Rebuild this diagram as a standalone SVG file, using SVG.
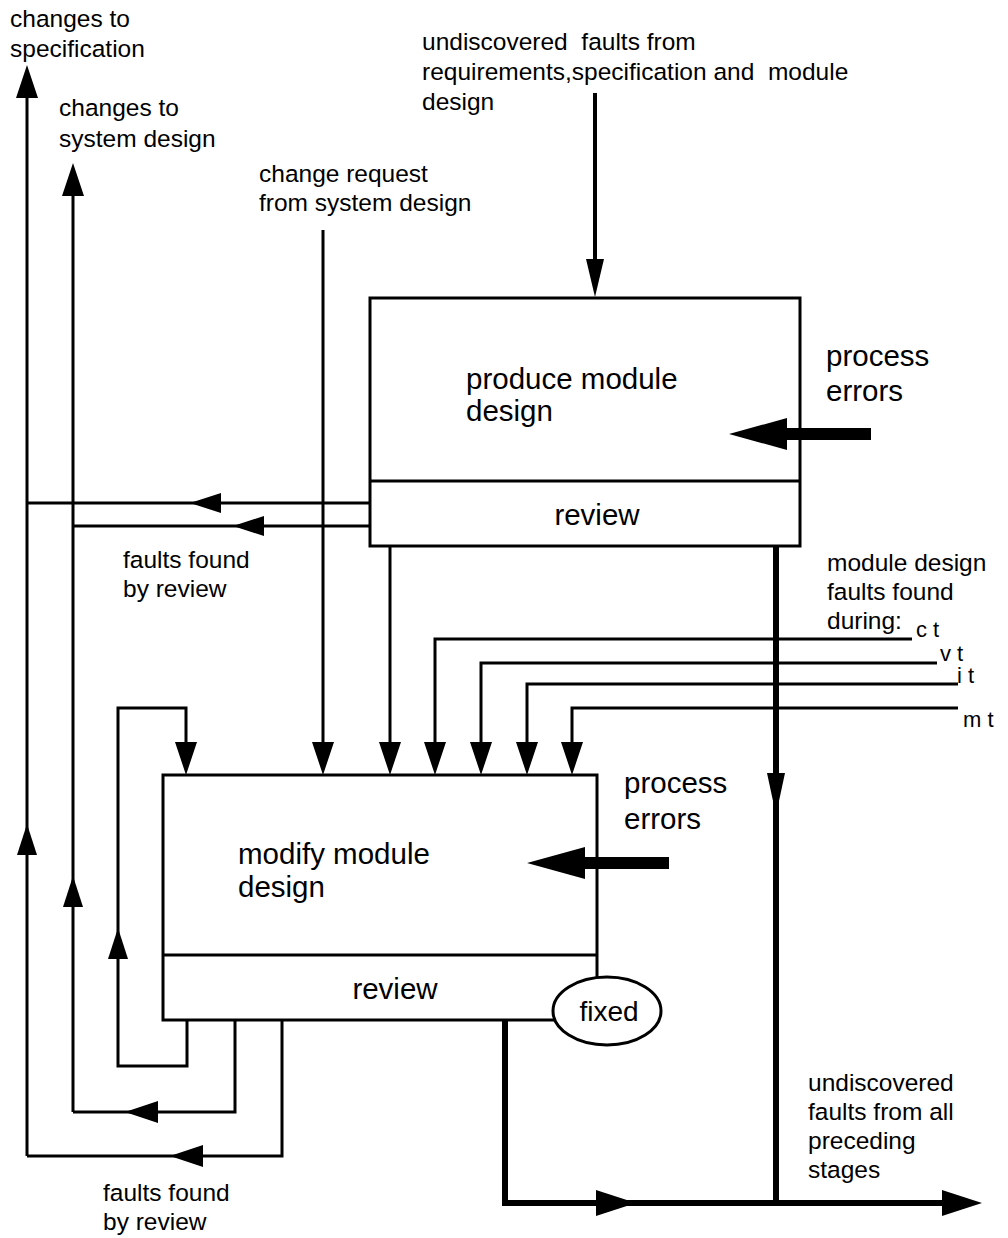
<svg xmlns="http://www.w3.org/2000/svg" width="1008" height="1238" viewBox="0 0 1008 1238">
<style>
.t{font-family:"Liberation Sans",Arial,sans-serif;font-size:24.5px;fill:#000;white-space:pre}
.b{font-family:"Liberation Sans",Arial,sans-serif;font-size:29.5px;fill:#000}
.s{font-family:"Liberation Sans",Arial,sans-serif;font-size:22px;fill:#000}
.ln{stroke:#000;stroke-width:3;fill:none}
.tk{stroke:#000;stroke-width:6;fill:none}
.bx{stroke:#000;stroke-width:3;fill:#fff}
</style>
<defs>
<path id="ah" d="M0,0 L-33,-11 L-33,11 Z" fill="#000"/>
<path id="ahs" d="M0,0 L-31,-10 L-31,10 Z" fill="#000"/>
<path id="ahb" d="M0,0 L-40,-13 L-40,13 Z" fill="#000"/>
<path id="ahn" d="M0,0 L-38,-9 L-38,9 Z" fill="#000"/>
<path id="pe" d="M0,0 L58,-16 L58,-6 L142,-6 L142,6 L58,6 L58,16 Z" fill="#000"/>
</defs>

<g id="labels">
<text class="t" x="10" y="27">changes to</text>
<text class="t" x="10" y="57">specification</text>
<text class="t" x="59" y="116">changes to</text>
<text class="t" x="59" y="147">system design</text>
<text class="t" x="259" y="182">change request</text>
<text class="t" x="259" y="211">from system design</text>
<text class="t" x="422" y="50">undiscovered  faults from</text>
<text class="t" x="422" y="80">requirements,specification and  module</text>
<text class="t" x="422" y="110">design</text>
<text class="b" x="826" y="366">process</text>
<text class="b" x="826" y="401">errors</text>
<text class="t" x="123" y="568">faults found</text>
<text class="t" x="123" y="597">by review</text>
<text class="t" x="827" y="571">module design</text>
<text class="t" x="827" y="600">faults found</text>
<text class="t" x="827" y="629">during:</text>
<text class="s" x="916" y="637">c t</text>
<text class="s" x="940" y="661">v t</text>
<text class="s" x="957" y="683">i t</text>
<text class="s" x="963" y="727">m t</text>
<text class="b" x="624" y="793">process</text>
<text class="b" x="624" y="829">errors</text>
<text class="t" x="808" y="1091">undiscovered</text>
<text class="t" x="808" y="1120">faults from all</text>
<text class="t" x="808" y="1149">preceding</text>
<text class="t" x="808" y="1178">stages</text>
<text class="t" x="103" y="1201">faults found</text>
<text class="t" x="103" y="1230">by review</text>
</g>

<g id="connectors">
<!-- left vertical feedback lines -->
<line class="ln" x1="27" y1="80" x2="27" y2="1156"/>
<line class="ln" x1="73" y1="178" x2="73" y2="1112"/>
<use href="#ah" transform="translate(27,65) rotate(-90)"/>
<use href="#ah" transform="translate(73,163) rotate(-90)"/>
<use href="#ahs" transform="translate(27,824) rotate(-90)"/>
<use href="#ahs" transform="translate(73,876) rotate(-90)"/>
<!-- review outputs from top box -->
<line class="ln" x1="370" y1="503" x2="27" y2="503"/>
<line class="ln" x1="370" y1="526" x2="73" y2="526"/>
<use href="#ahs" transform="translate(190,503) rotate(180)"/>
<use href="#ahs" transform="translate(233,526) rotate(180)"/>
<!-- incoming undiscovered faults -->
<line x1="595" y1="93" x2="595" y2="262" stroke="#000" stroke-width="4"/>
<use href="#ahn" transform="translate(595,297) rotate(90)"/>
<!-- change request -->
<line class="ln" x1="323" y1="230" x2="323" y2="745"/>
<use href="#ah" transform="translate(323,775) rotate(90)"/>
<!-- top box to lower box -->
<line class="ln" x1="390" y1="546" x2="390" y2="745"/>
<use href="#ah" transform="translate(390,775) rotate(90)"/>
<!-- test feedback lines -->
<polyline class="ln" points="912,639 435,639 435,745"/>
<use href="#ah" transform="translate(435,775) rotate(90)"/>
<polyline class="ln" points="937,663 481,663 481,745"/>
<use href="#ah" transform="translate(481,775) rotate(90)"/>
<polyline class="ln" points="958,684 527,684 527,745"/>
<use href="#ah" transform="translate(527,775) rotate(90)"/>
<polyline class="ln" points="958,708 572,708 572,745"/>
<use href="#ah" transform="translate(572,775) rotate(90)"/>
<!-- thick through line -->
<line class="tk" x1="776" y1="546" x2="776" y2="1206"/>
<path d="M767,773 L785,773 L776,815 Z" fill="#000"/>
<!-- inner loop -->
<polyline class="ln" points="187,1020 187,1066 118,1066 118,708 186,708 186,745"/>
<use href="#ah" transform="translate(186,775) rotate(90)"/>
<use href="#ahs" transform="translate(118,928) rotate(-90)"/>
<!-- middle loop -->
<polyline class="ln" points="235,1020 235,1112 73,1112"/>
<use href="#ah" transform="translate(125,1112) rotate(180)"/>
<!-- outer loop -->
<polyline class="ln" points="282,1020 282,1156 27,1156"/>
<use href="#ah" transform="translate(170,1156) rotate(180)"/>
<!-- fixed output -->
<polyline class="tk" points="505,1020 505,1203 950,1203"/>
<use href="#ahb" transform="translate(636,1203)"/>
<use href="#ahb" transform="translate(982,1203)"/>
</g>

<g id="produce">
<rect class="bx" x="370" y="298" width="430" height="248"/>
<line class="ln" x1="370" y1="481" x2="800" y2="481"/>
<text class="b" x="466" y="389">produce module</text>
<text class="b" x="466" y="421">design</text>
<text class="b" x="597" y="525" text-anchor="middle">review</text>
</g>
<use id="perr1" href="#pe" transform="translate(729,434)"/>

<g id="modify">
<rect class="bx" x="163" y="775" width="434" height="245"/>
<line class="ln" x1="163" y1="955" x2="597" y2="955"/>
<text class="b" x="238" y="864">modify module</text>
<text class="b" x="238" y="897">design</text>
<text class="b" x="395" y="999" text-anchor="middle">review</text>
</g>
<use id="perr2" href="#pe" transform="translate(527,863)"/>

<g id="fixed">
<ellipse cx="607" cy="1011" rx="54" ry="34" stroke="#000" stroke-width="3" fill="#fff"/>
<text class="b" x="609" y="1021" text-anchor="middle" style="font-size:28px">fixed</text>
</g>
</svg>
